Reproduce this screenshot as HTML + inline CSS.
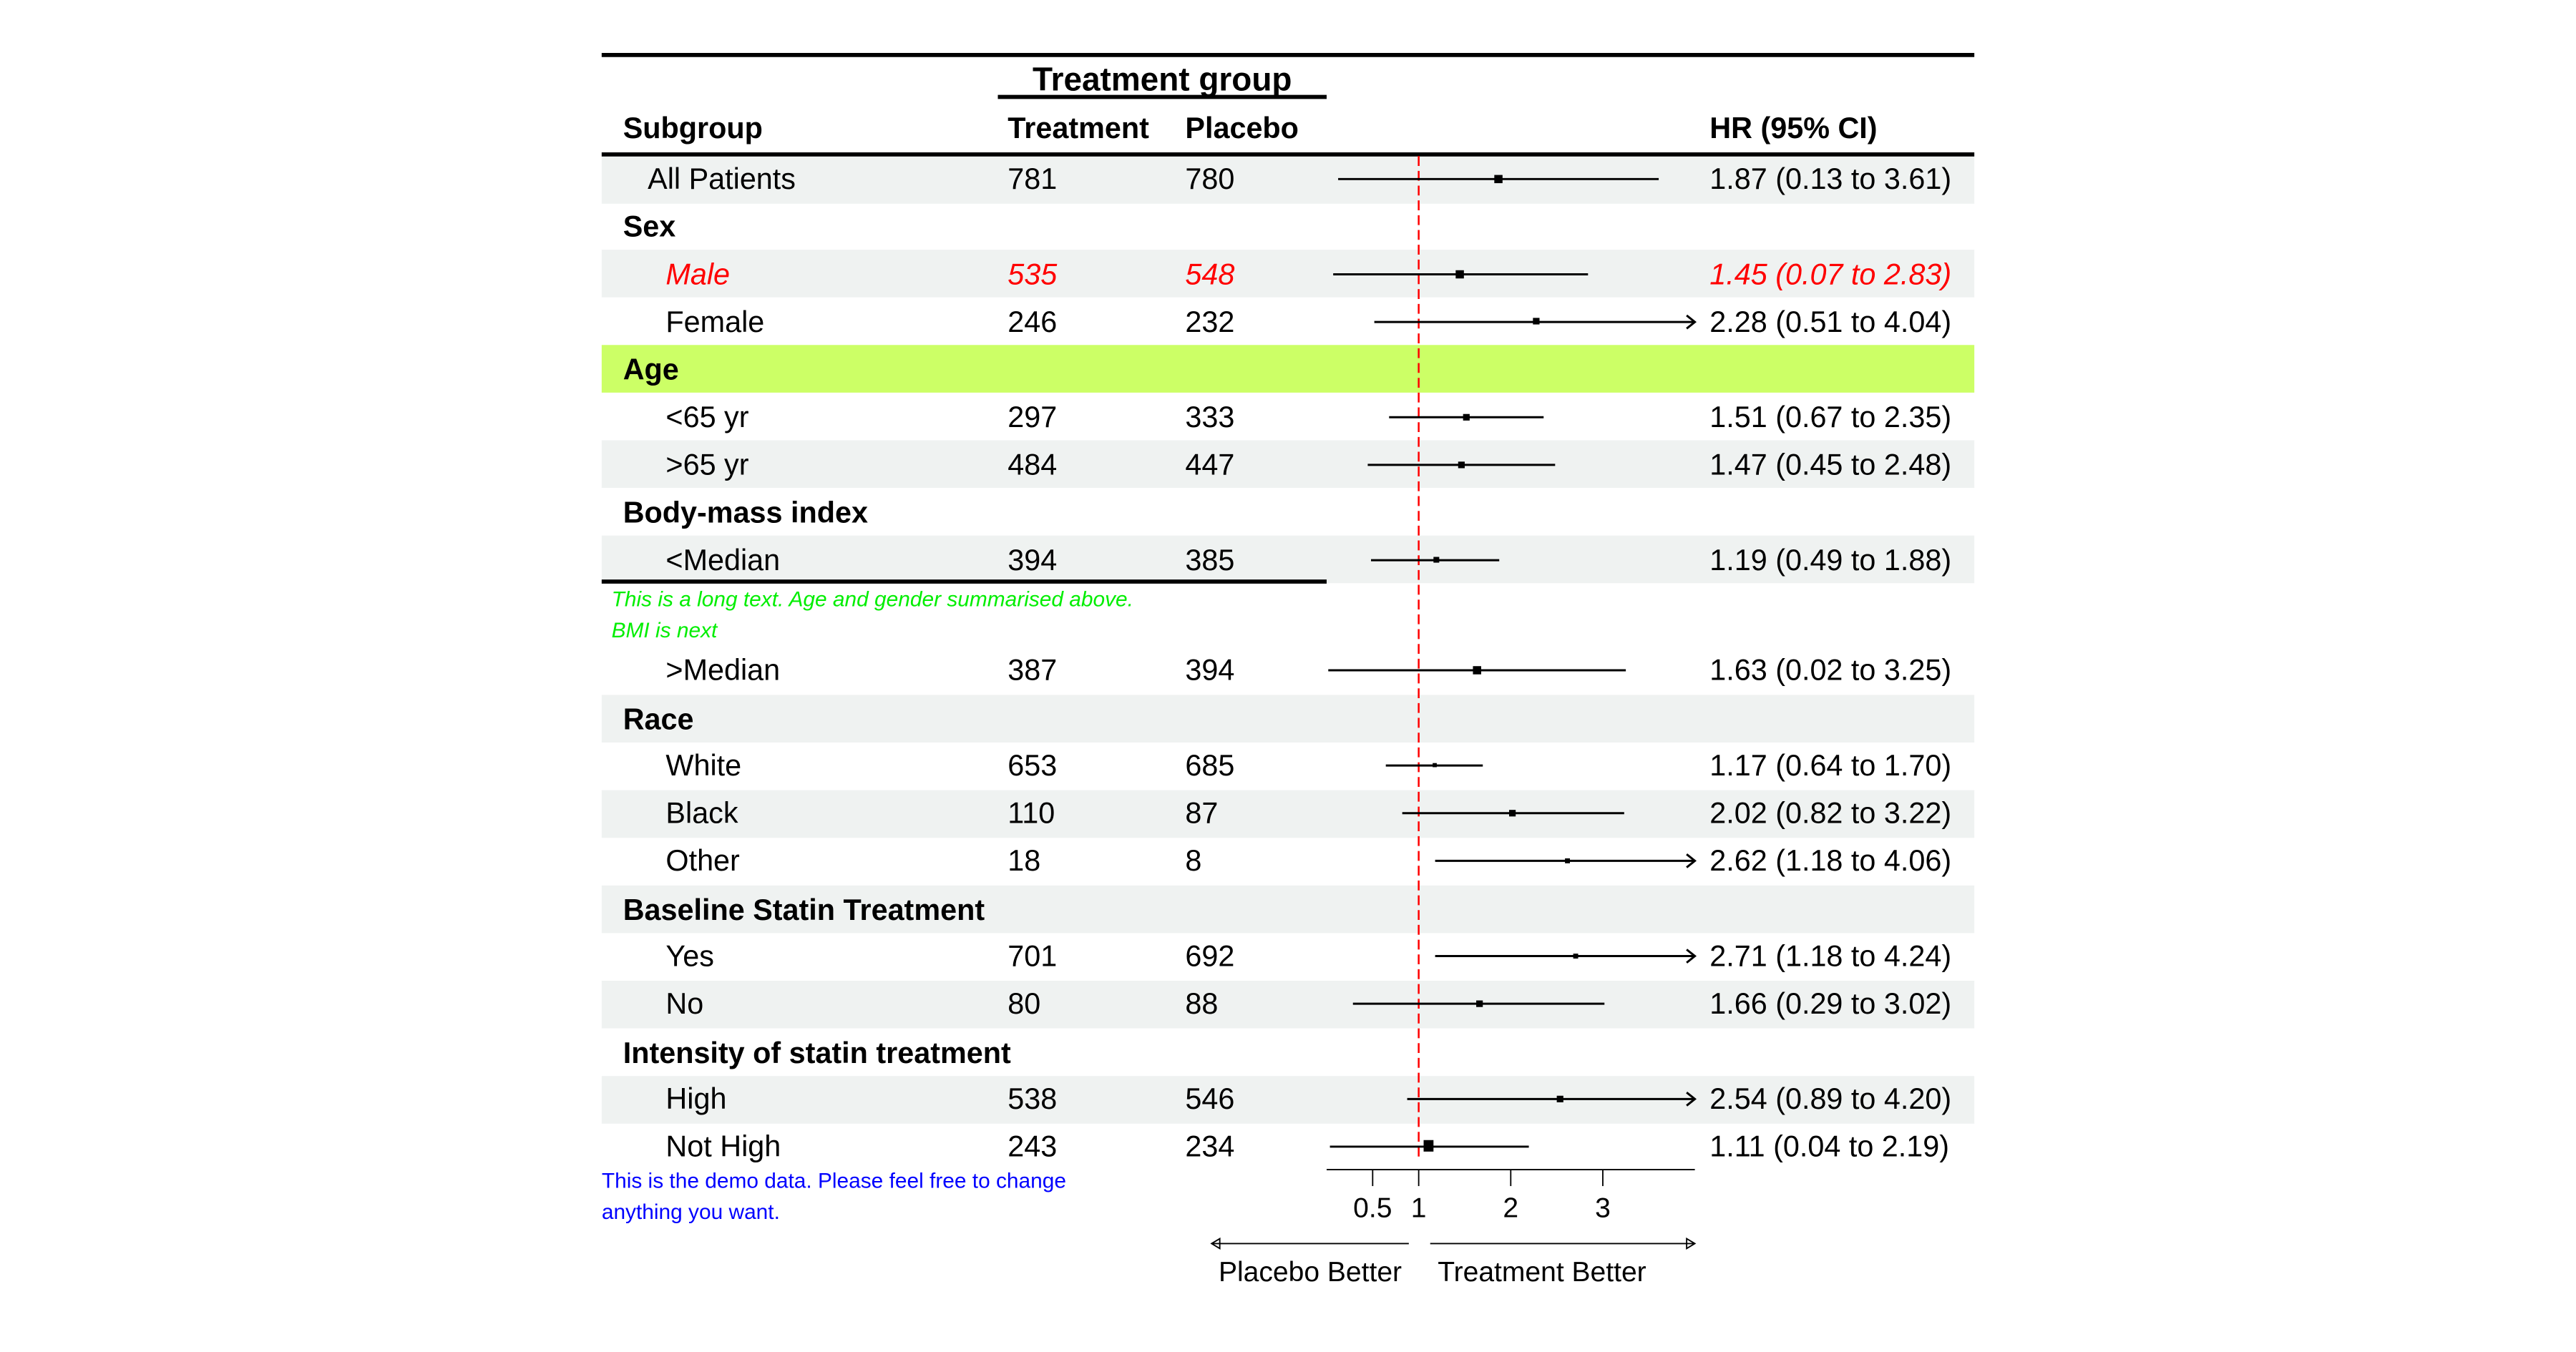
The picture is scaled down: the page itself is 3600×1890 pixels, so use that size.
<!DOCTYPE html>
<html><head><meta charset="utf-8"><style>html,body{margin:0;padding:0;background:#fff}svg{display:block}</style></head>
<body>
<svg width="3600" height="1890" viewBox="0 0 1567 823" preserveAspectRatio="none" xmlns="http://www.w3.org/2000/svg" font-family="Liberation Sans, Arial, sans-serif">
<rect width="1567" height="823" fill="#fff"/>
<g fill="#eff2f1">
<rect x="366" y="95" width="835" height="29"/>
<rect x="366" y="152" width="835" height="29"/>
<rect x="366" y="268" width="835" height="29"/>
<rect x="366" y="326" width="835" height="29"/>
<rect x="366" y="423" width="835" height="29"/>
<rect x="366" y="481" width="835" height="29"/>
<rect x="366" y="539" width="835" height="29"/>
<rect x="366" y="597" width="835" height="29"/>
<rect x="366" y="655" width="835" height="29"/>
</g>
<rect x="366" y="210" width="835" height="29" fill="#ccff66"/>
<line x1="366" y1="33.5" x2="1201" y2="33.5" stroke="#000" stroke-width="2.5"/>
<line x1="607" y1="59" x2="807" y2="59" stroke="#000" stroke-width="2.5"/>
<line x1="366" y1="94" x2="1201" y2="94" stroke="#000" stroke-width="2.5"/>
<line x1="366" y1="354" x2="807" y2="354" stroke="#000" stroke-width="2.5"/>
<g font-size="18" font-weight="bold">
<text x="707" y="55" text-anchor="middle" font-size="20">Treatment group</text>
<text x="379" y="84">Subgroup</text>
<text x="613" y="84">Treatment</text>
<text x="721" y="84">Placebo</text>
<text x="1040" y="84">HR (95% CI)</text>
<text x="379" y="144">Sex</text>
<text x="379" y="231">Age</text>
<text x="379" y="318">Body-mass index</text>
<text x="379" y="444">Race</text>
<text x="379" y="560">Baseline Statin Treatment</text>
<text x="379" y="647">Intensity of statin treatment</text>
</g>
<g font-size="18">
<text x="394" y="115">All Patients</text><text x="613" y="115">781</text><text x="721" y="115">780</text><text x="1040" y="115">1.87 (0.13 to 3.61)</text>
<g fill="#ff0000" font-style="italic"><text x="405" y="173">Male</text><text x="613" y="173">535</text><text x="721" y="173">548</text><text x="1040" y="173">1.45 (0.07 to 2.83)</text></g>
<text x="405" y="202">Female</text><text x="613" y="202">246</text><text x="721" y="202">232</text><text x="1040" y="202">2.28 (0.51 to 4.04)</text>
<text x="405" y="260">&lt;65 yr</text><text x="613" y="260">297</text><text x="721" y="260">333</text><text x="1040" y="260">1.51 (0.67 to 2.35)</text>
<text x="405" y="289">&gt;65 yr</text><text x="613" y="289">484</text><text x="721" y="289">447</text><text x="1040" y="289">1.47 (0.45 to 2.48)</text>
<text x="405" y="347">&lt;Median</text><text x="613" y="347">394</text><text x="721" y="347">385</text><text x="1040" y="347">1.19 (0.49 to 1.88)</text>
<text x="405" y="414">&gt;Median</text><text x="613" y="414">387</text><text x="721" y="414">394</text><text x="1040" y="414">1.63 (0.02 to 3.25)</text>
<text x="405" y="472">White</text><text x="613" y="472">653</text><text x="721" y="472">685</text><text x="1040" y="472">1.17 (0.64 to 1.70)</text>
<text x="405" y="501">Black</text><text x="613" y="501">110</text><text x="721" y="501">87</text><text x="1040" y="501">2.02 (0.82 to 3.22)</text>
<text x="405" y="530">Other</text><text x="613" y="530">18</text><text x="721" y="530">8</text><text x="1040" y="530">2.62 (1.18 to 4.06)</text>
<text x="405" y="588">Yes</text><text x="613" y="588">701</text><text x="721" y="588">692</text><text x="1040" y="588">2.71 (1.18 to 4.24)</text>
<text x="405" y="617">No</text><text x="613" y="617">80</text><text x="721" y="617">88</text><text x="1040" y="617">1.66 (0.29 to 3.02)</text>
<text x="405" y="675">High</text><text x="613" y="675">538</text><text x="721" y="675">546</text><text x="1040" y="675">2.54 (0.89 to 4.20)</text>
<text x="405" y="704">Not High</text><text x="613" y="704">243</text><text x="721" y="704">234</text><text x="1040" y="704">1.11 (0.04 to 2.19)</text>
</g>
<g font-size="13" font-style="italic" fill="#00ee00">
<text x="372" y="369">This is a long text. Age and gender summarised above.</text>
<text x="372" y="388">BMI is next</text>
</g>
<g font-size="13" fill="#0000ff">
<text x="366" y="723">This is the demo data. Please feel free to change</text>
<text x="366" y="742">anything you want.</text>
</g>
<line x1="863" y1="95" x2="863" y2="706" stroke="#ff0000" stroke-width="1.1" stroke-dasharray="6,3"/>
<g stroke="#000" stroke-width="1.3" fill="none">
<line x1="814" y1="109" x2="1009" y2="109"/>
<line x1="811" y1="167" x2="966" y2="167"/>
<line x1="836" y1="196" x2="1031" y2="196"/><path d="M1026,192 L1031,196 L1026,200"/>
<line x1="845" y1="254" x2="939" y2="254"/>
<line x1="832" y1="283" x2="946" y2="283"/>
<line x1="834" y1="341" x2="912" y2="341"/>
<line x1="808" y1="408" x2="989" y2="408"/>
<line x1="843" y1="466" x2="902" y2="466"/>
<line x1="853" y1="495" x2="988" y2="495"/>
<line x1="873" y1="524" x2="1031" y2="524"/><path d="M1026,520 L1031,524 L1026,528"/>
<line x1="873" y1="582" x2="1031" y2="582"/><path d="M1026,578 L1031,582 L1026,586"/>
<line x1="823" y1="611" x2="976" y2="611"/>
<line x1="856" y1="669" x2="1031" y2="669"/><path d="M1026,665 L1031,669 L1026,673"/>
<line x1="809" y1="698" x2="930" y2="698"/>
</g>
<g fill="#000">
<rect x="909" y="106.5" width="5" height="5"/>
<rect x="885.5" y="164.5" width="5" height="5"/>
<rect x="932.5" y="193.5" width="4" height="4"/>
<rect x="890" y="252" width="4" height="4"/>
<rect x="887" y="281" width="4" height="4"/>
<rect x="872" y="339" width="3.5" height="3.5"/>
<rect x="896" y="405.5" width="5" height="5"/>
<rect x="871.5" y="464.5" width="2.5" height="2.5"/>
<rect x="918" y="493" width="4" height="4"/>
<rect x="952" y="522.5" width="3" height="3"/>
<rect x="957" y="580.5" width="3" height="3"/>
<rect x="898" y="609" width="4" height="4"/>
<rect x="947" y="667" width="4" height="4"/>
<rect x="866" y="694" width="6" height="7"/>
</g>
<g stroke="#000" stroke-width="0.8" fill="none">
<line x1="807" y1="712" x2="1031" y2="712"/>
<line x1="835" y1="712" x2="835" y2="722"/>
<line x1="863" y1="712" x2="863" y2="722"/>
<line x1="919" y1="712" x2="919" y2="722"/>
<line x1="975" y1="712" x2="975" y2="722"/>
<line x1="737" y1="757" x2="857" y2="757"/><path d="M742,754 L737,757 L742,760 Z"/>
<line x1="870" y1="757" x2="1031" y2="757"/><path d="M1026,754 L1031,757 L1026,760 Z"/>
</g>
<g font-size="17" text-anchor="middle">
<text x="835" y="741">0.5</text><text x="863" y="741">1</text><text x="919" y="741">2</text><text x="975" y="741">3</text>
<text x="797" y="780">Placebo Better</text><text x="938" y="780">Treatment Better</text>
</g>
</svg>
</body></html>
